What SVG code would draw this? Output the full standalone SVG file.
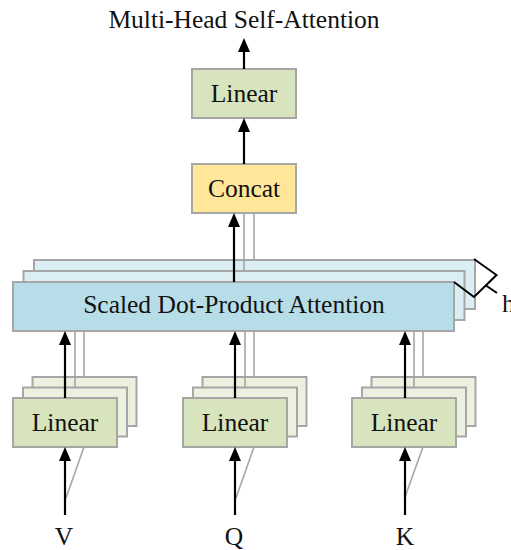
<svg xmlns="http://www.w3.org/2000/svg" width="511" height="550" viewBox="0 0 511 550">
<style>
  text{font-family:"Liberation Serif","Times New Roman",serif;font-size:25.5px;fill:#111;text-anchor:middle}
  .box{stroke:#a6a6a6;stroke-width:2}
  .lin{fill:#d7e4bd}
  .linb{fill:#ebf1de}
  .sd{fill:#b7dee8}
  .sdb{fill:#daeef3}
  .cc{fill:#ffe699}
  .arr{stroke:#000;stroke-width:2.2;fill:none;marker-end:url(#ah)}
  .g{stroke:#a6a6a6;stroke-width:1.6;fill:none}
  .bk{stroke:#000;stroke-width:2;fill:none}
</style>
<defs>
  <marker id="ah" viewBox="0 0 14 12" refX="4" refY="6" markerWidth="14" markerHeight="12" markerUnits="userSpaceOnUse" orient="auto">
    <path d="M0,0 L14,6 L0,12 z" fill="#000"/>
  </marker>
</defs>

<text id="title" x="244" y="28">Multi-Head Self-Attention</text>

<g id="linear-out">
  <rect class="box lin" x="192" y="69" width="104" height="49"/>
  <text x="244" y="102">Linear</text>
</g>

<g id="concat">
  <rect class="box cc" x="192" y="164" width="104" height="49"/>
  <text x="244" y="197">Concat</text>
</g>

<g id="sdpa">
  <rect class="box sdb" x="34" y="260" width="441" height="49"/>
  <rect class="box sdb" x="23.5" y="271" width="441" height="49"/>
  <rect class="box sd" x="13" y="282" width="441" height="49"/>
  <text x="234" y="313">Scaled Dot-Product Attention</text>
</g>

<g id="heads-bracket">
  <polyline class="bk" points="454,282 474,297 496.5,275 474,259"/>
  <line class="bk" x1="486" y1="285.5" x2="497" y2="293"/>
  <text x="502" y="312" style="text-anchor:start">h</text>
</g>

<g id="linear-v">
  <rect class="box linb" x="32.5" y="377" width="104" height="49"/>
  <rect class="box linb" x="23" y="387.5" width="104" height="49"/>
  <rect class="box lin" x="13" y="398" width="104" height="49"/>
  <text x="65" y="431">Linear</text>
</g>

<g id="linear-q">
  <rect class="box linb" x="202.5" y="377" width="104" height="49"/>
  <rect class="box linb" x="193" y="387.5" width="104" height="49"/>
  <rect class="box lin" x="183" y="398" width="104" height="49"/>
  <text x="235" y="431">Linear</text>
</g>

<g id="linear-k">
  <rect class="box linb" x="371.5" y="377" width="104" height="49"/>
  <rect class="box linb" x="362" y="387.5" width="104" height="49"/>
  <rect class="box lin" x="352" y="398" width="104" height="49"/>
  <text x="404" y="431">Linear</text>
</g>

<g id="inputs">
  <text x="64" y="545">V</text>
  <text x="234" y="545">Q</text>
  <text x="405" y="545">K</text>
</g>

<g id="connectors">
  <!-- gray shadow lines -->
  <line class="g" x1="244" y1="213" x2="244" y2="271"/>
  <line class="g" x1="254" y1="213" x2="254" y2="260"/>
  <line class="g" x1="75" y1="331" x2="75" y2="387.5"/>
  <line class="g" x1="84" y1="331" x2="84" y2="377"/>
  <line class="g" x1="245" y1="331" x2="245" y2="387.5"/>
  <line class="g" x1="254" y1="331" x2="254" y2="377"/>
  <line class="g" x1="414" y1="331" x2="414" y2="387.5"/>
  <line class="g" x1="423" y1="331" x2="423" y2="377"/>
  <line class="g" x1="84" y1="447" x2="66" y2="498"/>
  <line class="g" x1="254" y1="447" x2="236" y2="498"/>
  <line class="g" x1="423" y1="447" x2="405" y2="497"/>
  <!-- arrows -->
  <line class="arr" x1="244" y1="69" x2="244" y2="48"/>
  <line class="arr" x1="244" y1="164" x2="244" y2="128"/>
  <line class="arr" x1="234" y1="282" x2="234" y2="223"/>
  <line class="arr" x1="65" y1="398" x2="65" y2="341"/>
  <line class="arr" x1="235" y1="398" x2="235" y2="341"/>
  <line class="arr" x1="405" y1="398" x2="405" y2="341"/>
  <line class="arr" x1="65" y1="515" x2="65" y2="457"/>
  <line class="arr" x1="235" y1="515" x2="235" y2="457"/>
  <line class="arr" x1="405" y1="515" x2="405" y2="457"/>
</g>
</svg>
